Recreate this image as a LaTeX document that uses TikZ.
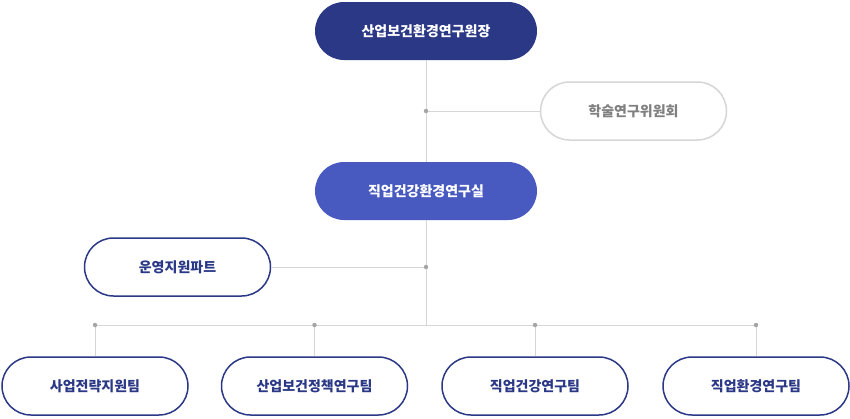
\documentclass[tikz,border=0pt]{standalone}
\usepackage{fontspec}
\setmainfont{Noto Sans CJK KR}
\usepackage{xcolor}
\definecolor{navy}{RGB}{43,56,134}
\definecolor{blueish}{RGB}{72,90,192}
\definecolor{linegray}{RGB}{214,214,214}
\definecolor{dotgray}{RGB}{165,165,165}
\begin{document}
\begin{tikzpicture}[x=1pt,y=1pt,yscale=-1,
  box/.style={rounded corners=29pt,minimum width=186pt,minimum height=58pt,inner sep=0pt,font=\fontsize{14}{16}\selectfont\bfseries},
  head/.style={box,fill=navy,text=white,minimum width=222pt},
  lab/.style={box,fill=blueish,text=white,minimum width=222pt},
  team/.style={box,draw=navy,line width=1.5pt,fill=white,text=navy},
  side/.style={box,draw=linegray,line width=1.5pt,fill=white,text=gray},
  conn/.style={draw=linegray,line width=0.8pt},
  dot/.style={circle,fill=dotgray,inner sep=0pt,minimum size=4.5pt}]
\useasboundingbox (0,0) rectangle (850,418);

% main column
\node[head] (dir) at (426,31) {산업보건환경연구원장};
\node[lab] (inst) at (426,191) {직업건강환경연구실};
\node[side] (comm) at (633.5,111) {학술연구위원회};
\node[team] (ops) at (177.5,267) {운영지원파트};

% teams
\node[team] (t1) at (95,386) {사업전략지원팀};
\node[team] (t2) at (314.5,386) {산업보건정책연구팀};
\node[team] (t3) at (535,386) {직업건강연구팀};
\node[team] (t4) at (756,386) {직업환경연구팀};

% junctions
\coordinate (j1) at (426,111);
\coordinate (j2) at (426,267);
\coordinate (j3) at (426,325);
\coordinate (d1) at (t1.north |- j3);
\coordinate (d2) at (t2.north |- j3);
\coordinate (d3) at (t3.north |- j3);
\coordinate (d4) at (t4.north |- j3);

\begin{scope}[on background layer/.style={}]
\path[conn] (dir) -- (inst);
\path[conn] (inst) -- (j3);
\path[conn] (j1) -- (comm);
\path[conn] (ops) -- (j2);
\path[conn] (d1) -- (d4);
\foreach \k in {1,...,4} \path[conn] (d\k) -- (t\k);
\end{scope}

\node[dot] at (j1) {};
\node[dot] at (j2) {};
\foreach \k in {1,...,4} \node[dot] at (d\k) {};
\end{tikzpicture}
\end{document}
